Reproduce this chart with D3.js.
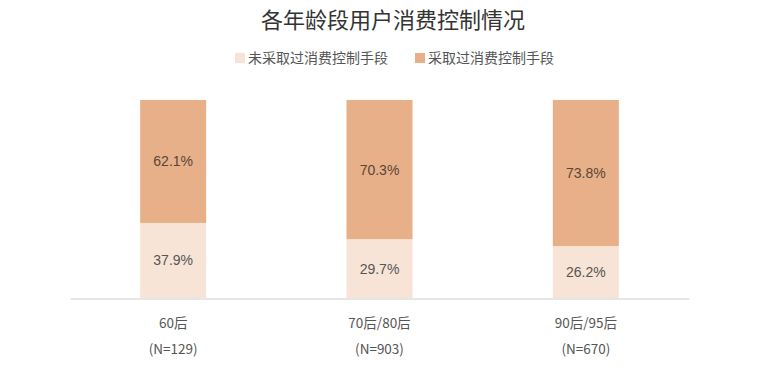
<!DOCTYPE html>
<html><head><meta charset="utf-8">
<script src="https://cdn.jsdelivr.net/npm/d3@7"></script>
<style>body{margin:0;background:#fff}svg{display:block}text{font-family:"Noto Sans CJK SC","Noto Sans",sans-serif}</style>
</head><body><svg id="c" width="763" height="377"></svg>
<script>
const categories = ["60后", "70后/80后", "90后/95后"];
const sampleLabels = ["(N=129)", "(N=903)", "(N=670)"];
const seriesNames = ["未采取过消费控制手段", "采取过消费控制手段"];
const notAdopted = [37.9, 29.7, 26.2];
const adopted = [62.1, 70.3, 73.8];
const colors = ["#f7e4d7", "#e8b089"];

const svg = d3.select("#c");
const x = d3.scaleBand().domain(categories).range([70, 689]).paddingInner(0.68).paddingOuter(0.34);
const y = d3.scaleLinear().domain([0, 100]).range([298, 100]);

svg.append("text").attr("x", 393).attr("y", 28).attr("text-anchor", "middle")
  .attr("font-size", 22).attr("fill", "#333").text("各年龄段用户消费控制情况");

// legend
const leg = [{x: 235, name: seriesNames[0], c: colors[0]}, {x: 415, name: seriesNames[1], c: colors[1]}];
leg.forEach(d => {
  svg.append("rect").attr("x", d.x).attr("y", 53).attr("width", 10).attr("height", 10).attr("fill", d.c);
  svg.append("text").attr("x", d.x + 13).attr("y", 63).attr("font-size", 14).attr("fill", "#555").text(d.name);
});

const data = categories.map((c, i) => ({c, v: [notAdopted[i], adopted[i]]}));
const stack = d3.stack().keys([0, 1]).value((d, k) => d.v[k]);
const series = stack(data);

series.forEach((s, k) => {
  svg.append("g").selectAll("rect").data(s).join("rect")
    .attr("x", d => x(d.data.c)).attr("width", x.bandwidth())
    .attr("y", d => y(d[1])).attr("height", d => y(d[0]) - y(d[1]))
    .attr("fill", colors[k]);
  svg.append("g").selectAll("text").data(s).join("text")
    .attr("x", d => x(d.data.c) + x.bandwidth() / 2)
    .attr("y", d => (y(d[0]) + y(d[1])) / 2 + 5)
    .attr("text-anchor", "middle").attr("font-size", 14)
    .attr("fill", k === 1 ? "#5a4538" : "#555")
    .style("font-family", "'Liberation Sans', Arial, sans-serif")
    .text(d => d.data.v[k].toFixed(1) + "%");
});

// axis
const xAxis = d3.axisBottom(x).tickSize(0).tickPadding(0).tickFormat(() => "");
const ax = svg.append("g").attr("transform", "translate(0,298.5)").call(xAxis);
ax.select(".domain").attr("stroke", "#dedede").attr("stroke-width", 1.5);

categories.forEach((c, i) => {
  const cx = x(c) + x.bandwidth() / 2;
  svg.append("text").attr("x", cx).attr("y", 328).attr("text-anchor", "middle")
    .attr("font-size", 13.5).attr("fill", "#555").text(c);
  svg.append("text").attr("x", cx).attr("y", 354).attr("text-anchor", "middle")
    .attr("font-size", 13.5).attr("fill", "#555").text(sampleLabels[i]);
});
</script></body></html>
